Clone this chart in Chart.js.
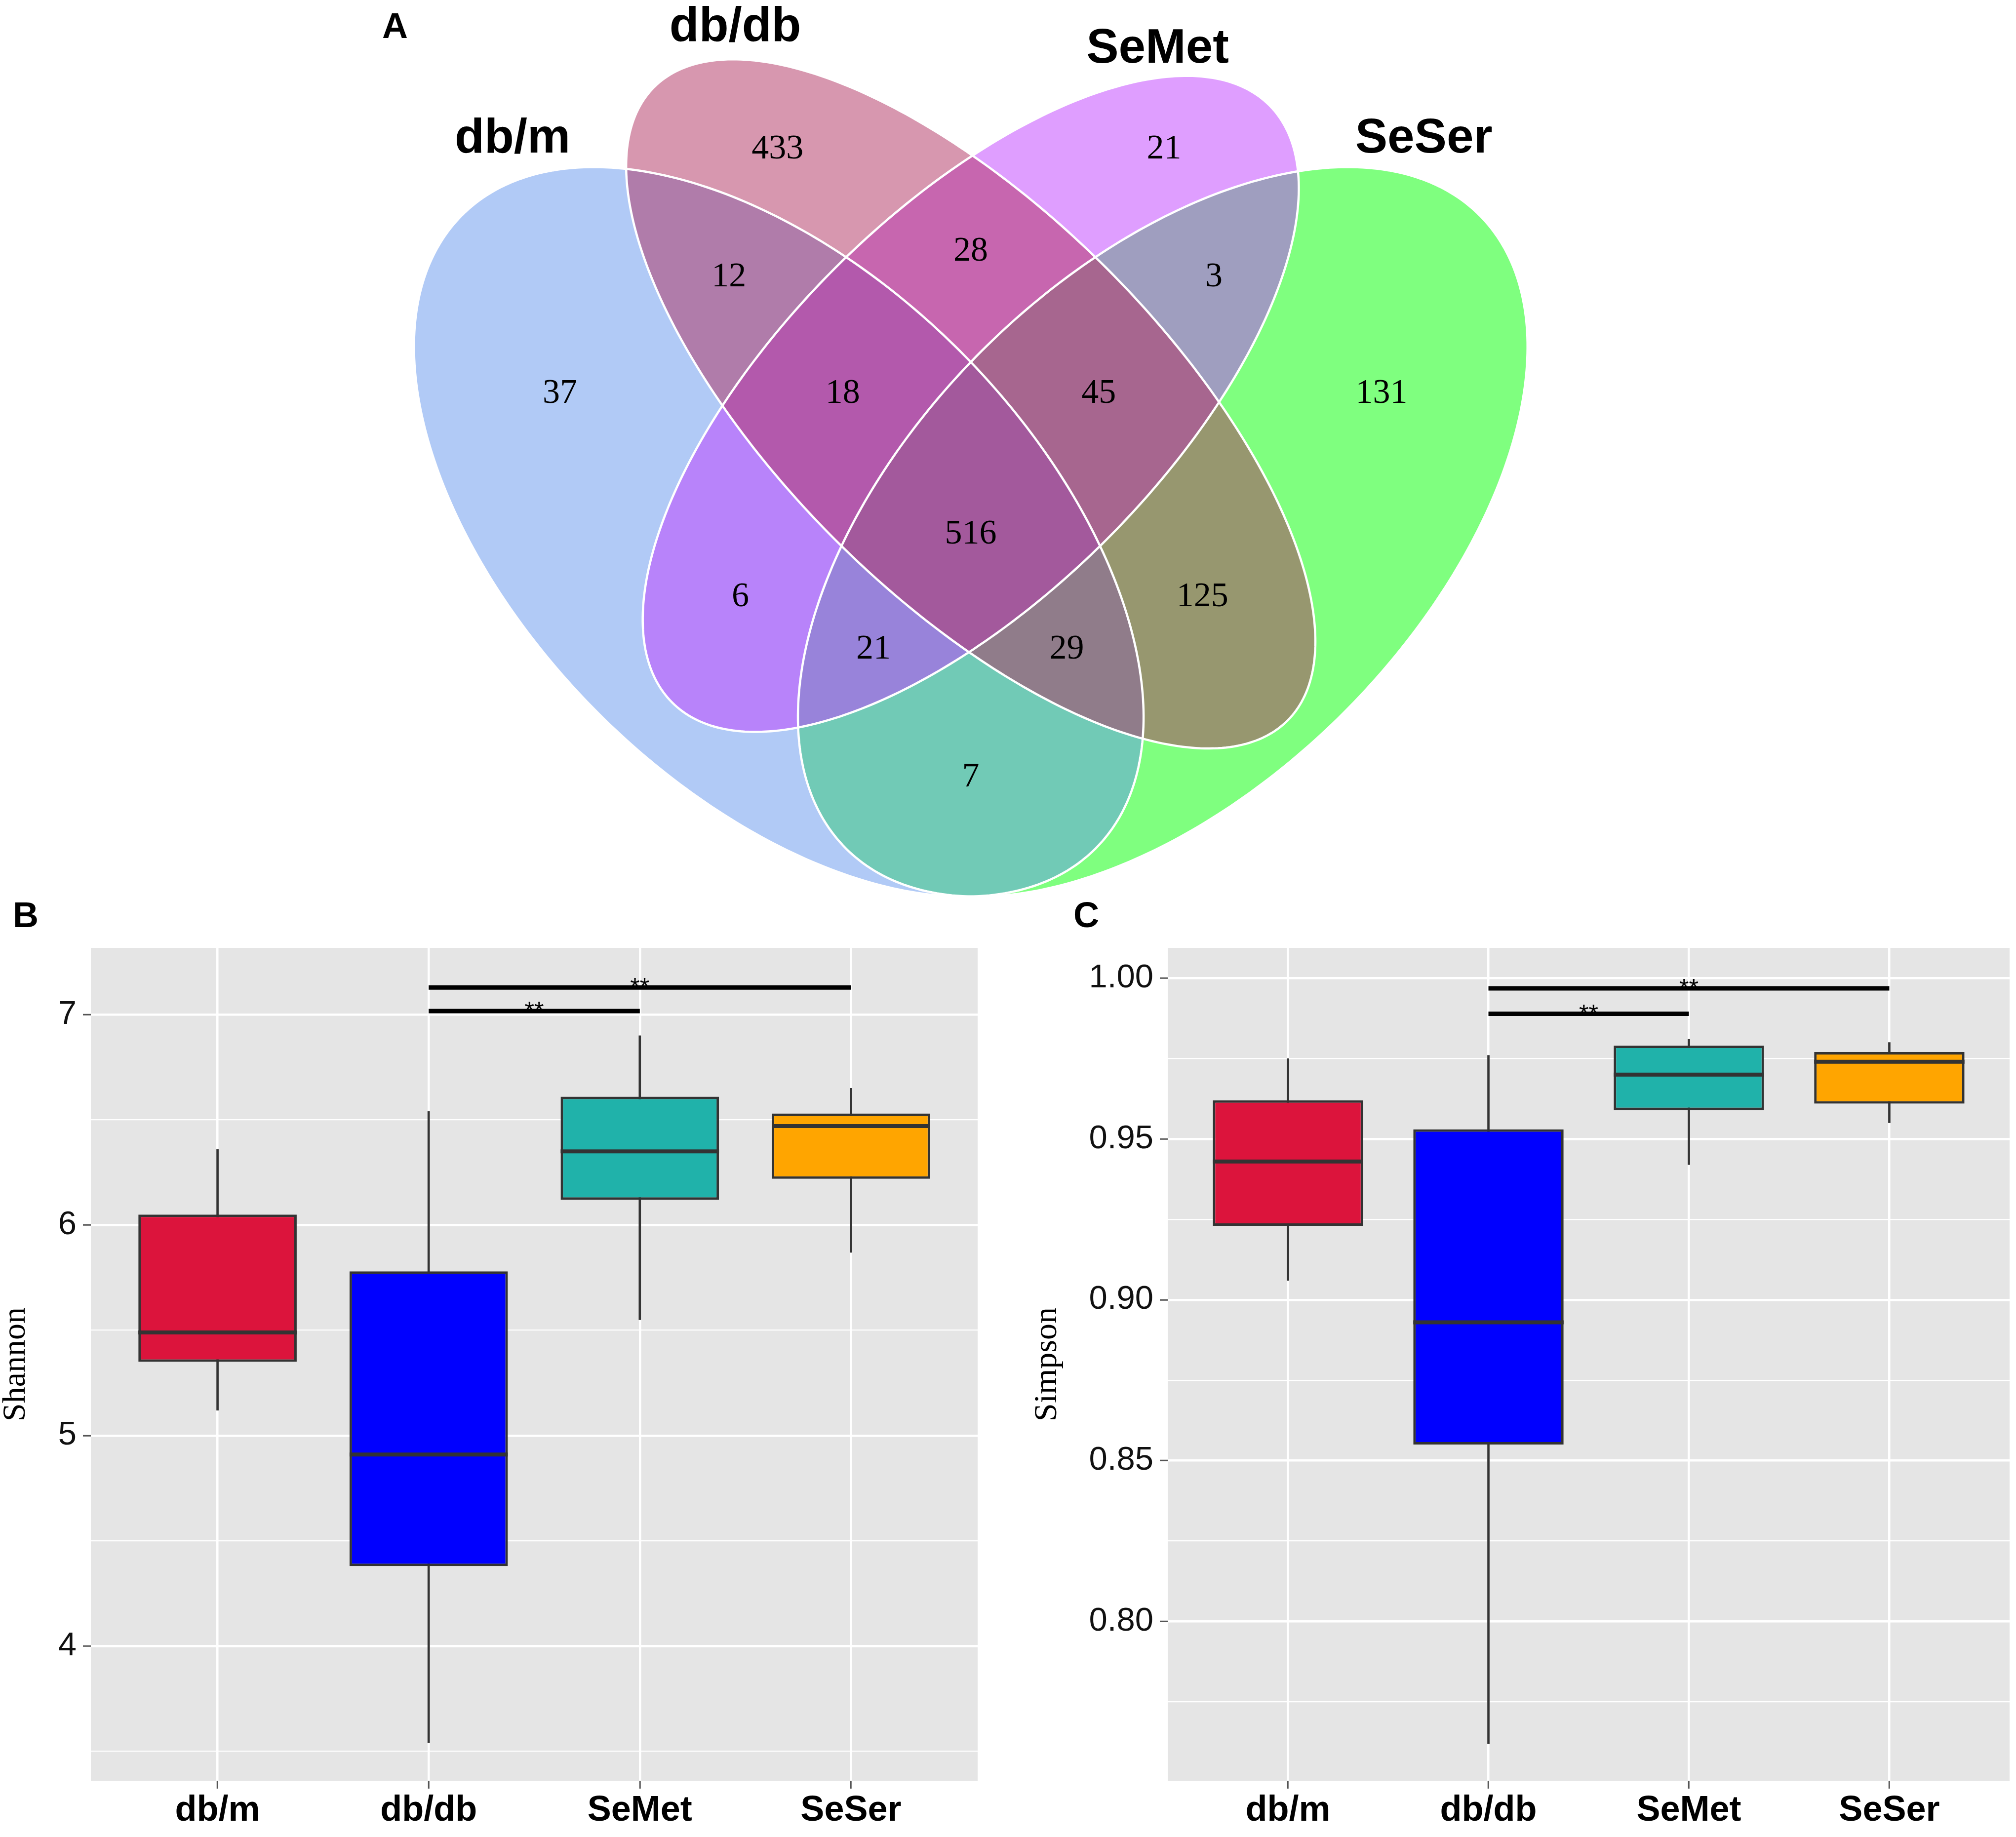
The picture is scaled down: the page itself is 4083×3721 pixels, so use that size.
<!DOCTYPE html>
<html>
<head>
<meta charset="utf-8">
<script src="https://cdn.jsdelivr.net/npm/chart.js@4.4.1/dist/chart.umd.min.js"></script>
<style>
  html, body { margin: 0; padding: 0; background: #fff; }
  body { width: 4083px; height: 3721px; position: relative; overflow: hidden; }
  canvas { position: absolute; }
</style>
</head>
<body>
<canvas id="venn" width="4083" height="1850" style="left:0;top:0"></canvas>
<canvas id="shannon" width="2010" height="1911" style="left:0;top:1810px"></canvas>
<canvas id="simpson" width="2073" height="1911" style="left:2010px;top:1810px"></canvas>
<script>
// ---- Venn (panel A) ----
const setNames = ['db/m', 'db/db', 'SeMet', 'SeSer'];
const setFills = ['rgba(100,149,237,0.5)', 'rgba(176,48,96,0.5)', 'rgba(191,62,255,0.5)', 'rgba(0,255,0,0.5)'];
const ellipseCx = [0.35, 0.50, 0.50, 0.65];
const ellipseCy = [0.47, 0.57, 0.57, 0.47];
const ellipseA = [0.35, 0.35, 0.33, 0.35];
const ellipseB = [0.20, 0.15, 0.15, 0.20];
const ellipseRot = [135, 135, 45, 45];
const fillOrder = [3, 0, 2, 1];
const setLabelX = [0.142, 0.316, 0.646, 0.854];
const setLabelY = [0.777, 0.864, 0.847, 0.777];

const regionCounts = [433, 21, 12, 28, 3, 37, 18, 45, 131, 516, 6, 125, 21, 29, 7];
const regionX = [0.349, 0.651, 0.311, 0.500, 0.690, 0.179, 0.400, 0.600, 0.821, 0.500, 0.320, 0.681, 0.424, 0.575, 0.500];
const regionY = [0.769, 0.769, 0.669, 0.689, 0.669, 0.578, 0.578, 0.578, 0.578, 0.468, 0.419, 0.419, 0.378, 0.378, 0.278];

// ---- Box plots (panels B and C) ----
const groups = ['db/m', 'db/db', 'SeMet', 'SeSer'];
const boxColors = ['#DC143C', '#0000FF', '#20B2AA', '#FFA500'];

const shannonMin = [5.12, 3.54, 5.55, 5.87];
const shannonQ1 = [5.35, 4.38, 6.12, 6.22];
const shannonMedian = [5.49, 4.91, 6.35, 6.47];
const shannonQ3 = [6.05, 5.78, 6.61, 6.53];
const shannonMax = [6.36, 6.54, 6.90, 6.65];
const shannonTicks = [3.5, 4, 4.5, 5, 5.5, 6, 6.5, 7];
const shannonSigY = [7.017, 7.129];

const simpsonMin = [0.906, 0.762, 0.942, 0.955];
const simpsonQ1 = [0.923, 0.855, 0.959, 0.961];
const simpsonMedian = [0.943, 0.893, 0.970, 0.974];
const simpsonQ3 = [0.962, 0.953, 0.979, 0.977];
const simpsonMax = [0.975, 0.976, 0.981, 0.980];
const simpsonTicks = [0.775, 0.8, 0.825, 0.85, 0.875, 0.9, 0.925, 0.95, 0.975, 1.0];
const simpsonSigY = [0.9889, 0.9968];

const sigFrom = [2, 2];
const sigTo = [3, 4];
const sigLabels = ['**', '**'];

const SANS = "'Liberation Sans', Arial, sans-serif";
const SERIF = "'Liberation Serif', 'Times New Roman', serif";

// Venn ellipses are traced in data units and mapped through the chart scales
const vennPlugin = {
    id: 'vennShapes',
    beforeDatasetsDraw(chart) {
        const { ctx, scales: { x, y } } = chart;
        const trace = (i) => {
            const th = ellipseRot[i] * Math.PI / 180;
            ctx.beginPath();
            for (let k = 0; k <= 360; k++) {
                const t = k * Math.PI / 180;
                const ex = ellipseCx[i] + ellipseA[i] * Math.cos(t) * Math.cos(th) - ellipseB[i] * Math.sin(t) * Math.sin(th);
                const ey = ellipseCy[i] + ellipseA[i] * Math.cos(t) * Math.sin(th) + ellipseB[i] * Math.sin(t) * Math.cos(th);
                const px = x.getPixelForValue(ex);
                const py = y.getPixelForValue(ey);
                if (k === 0) ctx.moveTo(px, py); else ctx.lineTo(px, py);
            }
            ctx.closePath();
        };
        ctx.save();
        for (const i of fillOrder) {
            trace(i);
            ctx.fillStyle = setFills[i];
            ctx.fill();
        }
        ctx.strokeStyle = '#ffffff';
        ctx.lineWidth = 4.5;
        for (const i of fillOrder) {
            trace(i);
            ctx.stroke();
        }
        ctx.restore();
    },
    afterDatasetsDraw(chart) {
        const ctx = chart.ctx;
        ctx.save();
        ctx.fillStyle = '#000';
        ctx.textAlign = 'center';
        ctx.textBaseline = 'middle';

        ctx.font = `70px ${SERIF}`;
        chart.getDatasetMeta(0).data.forEach((pt, i) => {
            ctx.fillText(String(regionCounts[i]), pt.x, pt.y);
        });

        ctx.font = `bold 98px ${SANS}`;
        chart.getDatasetMeta(1).data.forEach((pt, i) => {
            ctx.fillText(setNames[i], pt.x, pt.y);
        });

        ctx.font = `bold 72px ${SANS}`;
        ctx.fillText('A', 800, 57);
        ctx.restore();
    }
};

new Chart(document.getElementById('venn'), {
    type: 'scatter',
    data: {
        datasets: [
            { data: regionX.map((v, i) => ({ x: v, y: regionY[i] })), pointRadius: 0 },
            { data: setLabelX.map((v, i) => ({ x: v, y: setLabelY[i] })), pointRadius: 0 }
        ]
    },
    options: {
        responsive: false,
        animation: false,
        layout: { padding: 0 },
        plugins: { legend: { display: false }, tooltip: { enabled: false } },
        scales: {
            x: { type: 'linear', display: false, min: -0.2585, max: 1.3167 },
            y: { type: 'linear', display: false, min: 0.1719, max: 0.8856 }
        }
    },
    plugins: [vennPlugin]
});

function isMajor(v, step) {
    return Math.abs(v / step - Math.round(v / step)) < 1e-6;
}

function boxPlot(id, cfg) {
    const extras = {
        id: 'boxExtras',
        beforeDraw(chart) {
            const { ctx, chartArea: a } = chart;
            ctx.save();
            ctx.fillStyle = '#E5E5E5';
            ctx.fillRect(a.left, a.top, a.right - a.left, a.bottom - a.top);
            ctx.restore();
        },
        afterDatasetsDraw(chart) {
            const { ctx, scales: { x, y } } = chart;
            ctx.save();
            // medians
            ctx.strokeStyle = '#333333';
            ctx.lineWidth = 8;
            chart.getDatasetMeta(1).data.forEach((bar, i) => {
                const py = y.getPixelForValue(cfg.median[i]);
                ctx.beginPath();
                ctx.moveTo(bar.x - bar.width / 2, py);
                ctx.lineTo(bar.x + bar.width / 2, py);
                ctx.stroke();
            });
            // significance stars
            ctx.fillStyle = '#000';
            ctx.textAlign = 'center';
            ctx.textBaseline = 'alphabetic';
            ctx.font = `50px ${SANS}`;
            cfg.sigY.forEach((v, i) => {
                const px = x.getPixelForValue((sigFrom[i] + sigTo[i]) / 2);
                ctx.fillText(sigLabels[i], px, y.getPixelForValue(v) + 16);
            });
            // panel letter
            ctx.font = `bold 72px ${SANS}`;
            ctx.textBaseline = 'middle';
            ctx.fillText(cfg.letter, cfg.letterX, 48);
            ctx.restore();
        }
    };

    const sigSets = cfg.sigY.map((v, i) => ({
        type: 'line',
        data: [{ x: sigFrom[i], y: v }, { x: sigTo[i], y: v }],
        borderColor: '#000',
        borderWidth: 9,
        pointRadius: 0,
        order: 0
    }));

    return new Chart(document.getElementById(id), {
        type: 'bar',
        data: {
            datasets: [
                {
                    data: groups.map((g, i) => ({ x: i + 1, y: [cfg.min[i], cfg.max[i]] })),
                    backgroundColor: '#333333',
                    barThickness: 4,
                    grouped: false,
                    order: 3
                },
                {
                    data: groups.map((g, i) => ({ x: i + 1, y: [cfg.q1[i], cfg.q3[i]] })),
                    backgroundColor: boxColors,
                    borderColor: '#333333',
                    borderWidth: 5,
                    borderSkipped: false,
                    grouped: false,
                    categoryPercentage: 1,
                    barPercentage: 0.75,
                    order: 2
                },
                ...sigSets
            ]
        },
        options: {
            responsive: false,
            animation: false,
            layout: { padding: { top: 110, right: cfg.padRight, left: 0, bottom: 0 } },
            plugins: { legend: { display: false }, tooltip: { enabled: false } },
            scales: {
                x: {
                    type: 'linear',
                    min: 0.4,
                    max: 4.6,
                    offset: false,
                    afterBuildTicks: (s) => { s.ticks = groups.map((g, i) => ({ value: i + 1 })); },
                    afterFit: (s) => { s.height = 114; },
                    border: { display: false },
                    grid: { offset: false, color: '#ffffff', lineWidth: 4.5, tickColor: '#555555', tickLength: 16, tickWidth: 3 },
                    ticks: {
                        autoSkip: false,
                        maxRotation: 0,
                        padding: 2,
                        color: '#000',
                        font: { family: SANS, weight: 'bold', size: 72 },
                        callback: (v, i) => groups[i]
                    }
                },
                y: {
                    min: cfg.yMin,
                    max: cfg.yMax,
                    afterBuildTicks: (s) => { s.ticks = cfg.ticks.map(v => ({ value: v })); },
                    afterFit: (s) => { s.width = cfg.axisWidth; },
                    border: { display: false },
                    grid: {
                        color: '#ffffff',
                        lineWidth: (c) => isMajor(c.tick.value, cfg.step) ? 4.5 : 2.3,
                        tickColor: (c) => isMajor(c.tick.value, cfg.step) ? '#555555' : 'rgba(0,0,0,0)',
                        tickLength: 16,
                        tickWidth: 3
                    },
                    ticks: {
                        autoSkip: false,
                        padding: 13,
                        color: '#111',
                        font: { family: SANS, size: 67 },
                        callback: (v) => isMajor(v, cfg.step) ? cfg.fmt(v) : ''
                    },
                    title: {
                        display: true,
                        text: cfg.title,
                        color: '#000',
                        padding: { top: cfg.titlePad, bottom: 0 },
                        font: { family: SERIF, size: 66, lineHeight: 1 }
                    }
                }
            }
        },
        plugins: [extras]
    });
}

boxPlot('shannon', {
    min: shannonMin, q1: shannonQ1, median: shannonMedian, q3: shannonQ3, max: shannonMax,
    ticks: shannonTicks, step: 1, fmt: (v) => String(v), sigY: shannonSigY,
    yMin: 3.36, yMax: 7.317, title: 'Shannon', titlePad: 0,
    axisWidth: 184, padRight: 30, letter: 'B', letterX: 52
});

boxPlot('simpson', {
    min: simpsonMin, q1: simpsonQ1, median: simpsonMedian, q3: simpsonQ3, max: simpsonMax,
    ticks: simpsonTicks, step: 0.05, fmt: (v) => v.toFixed(2), sigY: simpsonSigY,
    yMin: 0.7505, yMax: 1.0094, title: 'Simpson', titlePad: 79,
    axisWidth: 355, padRight: 13, letter: 'C', letterX: 190
});
</script>
</body>
</html>
